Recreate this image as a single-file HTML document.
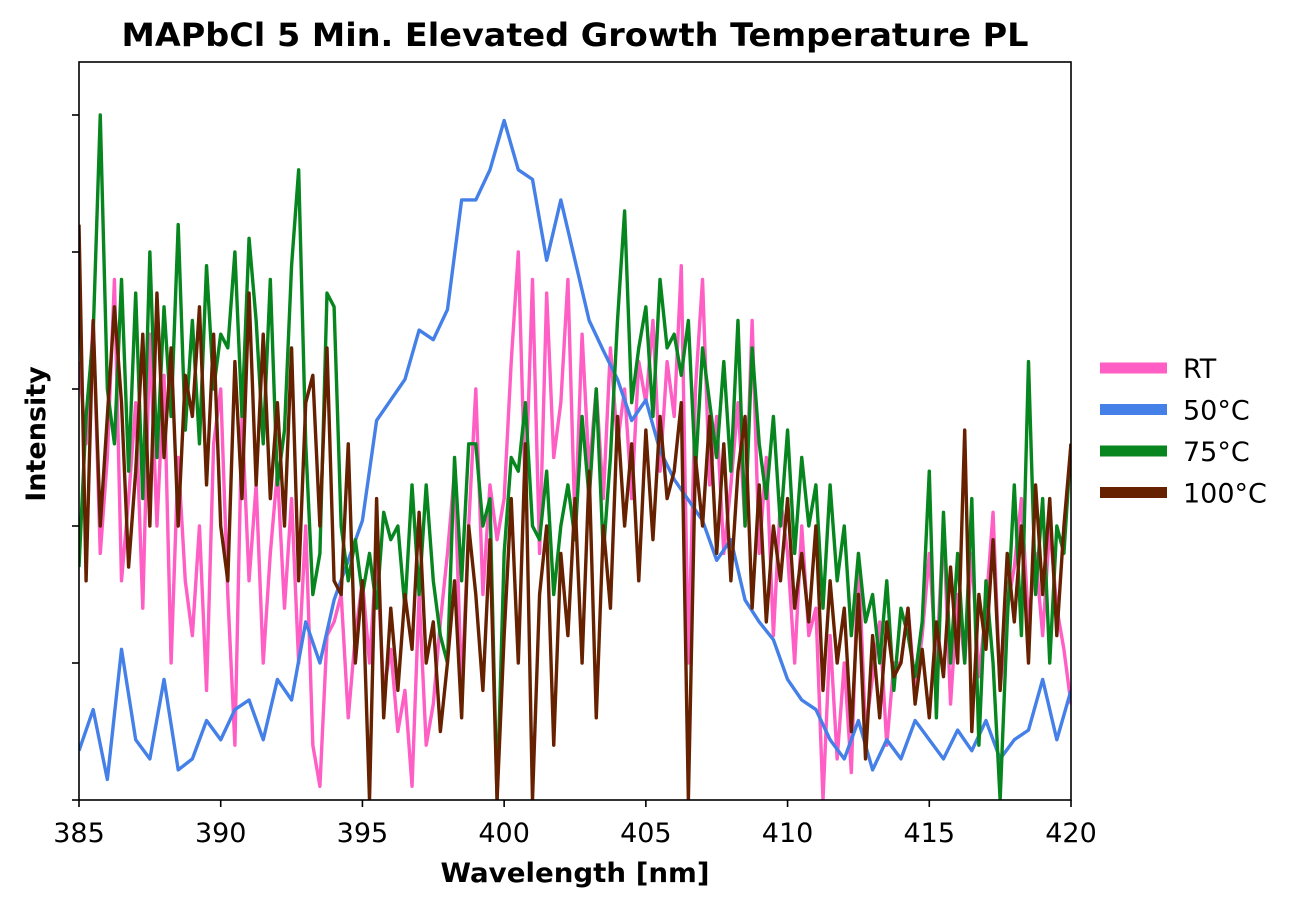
<!DOCTYPE html>
<html><head><meta charset="utf-8">
<style>
body{margin:0;background:#fff;font-family:"DejaVu Sans","Liberation Sans",sans-serif;}
svg text{font-family:"DejaVu Sans","Liberation Sans",sans-serif;}
</style></head>
<body>
<svg id="chart" width="1304" height="908" xmlns="http://www.w3.org/2000/svg">
<defs><clipPath id="clip"><rect x="79" y="62" width="992" height="738"/></clipPath></defs>
<rect width="1304" height="908" fill="#fff"/>
<text x="575" y="46" font-size="32" font-weight="bold" text-anchor="middle" textLength="907" lengthAdjust="spacingAndGlyphs">MAPbCl 5 Min. Elevated Growth Temperature PL</text>
<g id="series" clip-path="url(#clip)"></g>
<rect x="79" y="62" width="992" height="738" fill="none" stroke="#000" stroke-width="1.6"/>
<g id="axes"></g>
<text x="575" y="882" font-size="27" font-weight="bold" text-anchor="middle" textLength="269" lengthAdjust="spacingAndGlyphs">Wavelength [nm]</text>
<text transform="translate(45,434) rotate(-90)" font-size="27" font-weight="bold" text-anchor="middle">Intensity</text>
<g id="legend"></g>
</svg>
<script>
const xTicks=[385,390,395,400,405,410,415,420];
const yTicks=[0,1,2,3,4,5];
const seriesNames=["RT","50°C","75°C","100°C"];
const rtValues=[
3.2,2.6,3.5,1.8, 2.5,3.8,1.6,2.2, 2.9,1.4,3.4,2.0, 3.1,1.0,2.5,1.6, 1.2,2.0,0.8,2.6,
3.0,1.5,0.4,2.8, 1.6,2.3,1.0,1.8, 2.4,1.4,2.2,1.0, 2.0,0.4,0.1,1.2, 1.3,1.5,0.6,1.2,
1.6,1.0,1.8,0.8, 1.1,0.5,0.8,0.1, 1.5,0.4,0.7,1.3, 1.8,2.4,0.8,2.0, 3.0,1.5,2.3,1.9,
2.2,3.2,4.0,2.2, 3.8,1.8,3.7,2.5, 2.9,3.8,2.0,3.4, 2.4,3.0,2.2,3.3, 2.6,3.0,2.2,3.2,
2.9,3.5,2.4,3.2, 2.8,3.9,1.0,3.0, 3.8,2.3,2.8,1.8, 2.3,2.9,2.0,3.5, 1.8,2.5,1.2,2.2,
1.8,1.0,2.0,1.2, 1.4,0.0,1.2,0.3, 1.0,0.2,1.8,0.5, 0.9,1.3,0.4,1.0, 1.0,1.4,0.8,1.2,
1.8,1.0,2.0,0.7, 1.5,1.0,1.8,0.9, 1.4,2.1,0.8,1.4, 1.7,2.2,1.3,1.8, 1.2,2.0,1.4,1.1, 0.7];
const c50Values=[0.36,0.66,0.15,1.1,0.44,0.3,0.88,0.22,0.3,0.58,0.44,0.66,0.73,0.44,0.88,0.73,1.3,1.0,1.46,1.75,
2.04,2.77,2.92,3.07,3.43,3.36,3.58,4.38,4.38,4.6,4.96,4.6,4.53,3.94,4.38,3.94,3.5,3.28,3.07,2.77,
2.92,2.55,2.34,2.19,2.04,1.75,1.9,1.46,1.3,1.17,0.88,0.73,0.66,0.44,0.3,0.58,0.22,0.44,0.3,0.58,
0.44,0.3,0.51,0.36,0.58,0.3,0.44,0.51,0.88,0.44,0.8];
const c75Values=[
1.7,2.8,3.4,5.0, 3.0,2.6,3.8,2.4, 3.7,2.2,4.0,2.5, 3.6,2.8,4.2,2.7, 3.5,2.6,3.9,3.0,
3.4,3.3,4.0,2.8, 4.1,3.5,2.6,3.8, 2.3,2.7,3.9,4.6, 2.6,1.5,1.8,3.7, 3.6,2.0,1.6,1.9,
1.5,1.8,1.4,2.1, 1.9,2.0,1.4,2.3, 1.5,2.3,1.6,1.2, 1.0,2.5,1.6,2.6, 2.6,2.0,2.2,0.0,
1.8,2.5,2.4,2.9, 2.0,1.9,2.4,1.5, 2.0,2.3,1.9,2.8, 2.2,3.0,1.8,2.5, 3.5,4.3,2.9,3.3,
3.6,2.8,3.8,3.3, 3.4,3.1,3.5,2.4, 3.3,2.9,2.5,3.2, 2.4,3.5,2.0,3.3, 2.6,2.2,2.8,2.0,
2.7,1.8,2.5,2.0, 2.3,1.4,2.3,1.6, 2.0,1.2,1.8,1.3, 1.5,1.0,1.6,0.8, 1.4,1.2,0.9,1.3,
2.4,0.6,2.1,1.0, 1.8,1.0,2.2,0.4, 1.6,1.0,0.0,1.3, 2.3,1.2,3.2,1.5, 2.2,1.0,2.0,1.8, 2.6];
const c100Values=[
4.2,1.6,3.5,2.0, 2.8,3.6,2.9,1.7, 2.4,3.4,2.0,3.7, 2.5,3.3,2.0,3.1, 2.8,3.6,2.3,3.4,
2.0,1.6,3.2,2.2, 3.7,2.3,3.4,2.2, 2.9,2.0,3.3,1.6, 2.9,3.1,2.0,3.3, 1.6,1.5,2.6,1.0,
1.6,0.0,2.2,0.6, 1.4,0.8,1.5,1.1, 2.1,1.0,1.3,0.5, 1.0,1.6,0.6,2.0, 1.5,0.8,1.9,0.0,
1.2,2.2,1.0,2.6, 0.0,1.5,2.0,0.4, 1.8,1.2,2.2,1.0, 2.4,0.6,2.0,1.4, 2.8,2.0,2.6,1.6,
2.7,1.9,2.8,2.2, 2.4,2.9,0.0,2.5, 2.0,2.8,1.8,2.6, 1.6,2.4,2.8,1.4, 2.3,1.3,2.0,1.6,
2.2,1.4,1.8,1.3, 2.0,0.8,1.6,1.0, 1.4,0.5,1.5,0.3, 1.2,0.6,1.3,0.9, 1.0,1.4,0.7,1.1,
0.6,1.3,0.9,1.7, 1.0,2.7,0.5,1.5, 1.1,1.9,0.8,1.8, 1.3,2.0,1.0,2.3, 1.5,2.2,1.2,2.0, 2.6];

const NS="http://www.w3.org/2000/svg";
const X0=79,X1=1071,Y0=800,PX_PER_UNIT=137;
function xScale(v){return X0+(v-385)/(420-385)*(X1-X0);}
function yScale(v){return Y0-v*PX_PER_UNIT;}
const colors=["#ff5ec4","#4480e8","#07861f","#662200"];
const allSeries=[rtValues,c50Values,c75Values,c100Values];
const slugs=["rt","50c","75c","100c"];
const g=document.getElementById('series');
allSeries.forEach((vals,si)=>{
  const n=vals.length, step=35/(n-1);
  const d=vals.map((v,i)=>(i?'L':'M')+xScale(385+i*step).toFixed(2)+','+yScale(v).toFixed(2)).join('');
  const p=document.createElementNS(NS,'path');
  p.setAttribute('d',d);p.setAttribute('fill','none');p.setAttribute('stroke',colors[si]);
  p.setAttribute('stroke-width','3.4');p.setAttribute('stroke-linejoin','round');
  
  
  g.appendChild(p);
});
const ax=document.getElementById('axes');
xTicks.forEach(t=>{
  const x=xScale(t);
  const l=document.createElementNS(NS,'line');
  l.setAttribute('x1',x);l.setAttribute('x2',x);l.setAttribute('y1',800);l.setAttribute('y2',807);
  l.setAttribute('stroke','#000');l.setAttribute('stroke-width','1.6');
  
  
  ax.appendChild(l);
  const tx=document.createElementNS(NS,'text');
  tx.setAttribute('x',x);tx.setAttribute('y',842);tx.setAttribute('font-size','27');tx.setAttribute('text-anchor','middle');
  tx.textContent=t;
  
  
  ax.appendChild(tx);
});
yTicks.forEach(t=>{
  const y=yScale(t);
  const l=document.createElementNS(NS,'line');
  l.setAttribute('x1',72);l.setAttribute('x2',79);l.setAttribute('y1',y);l.setAttribute('y2',y);
  l.setAttribute('stroke','#000');l.setAttribute('stroke-width','1.6');
  
  
  ax.appendChild(l);
});
const lg=document.getElementById('legend');
seriesNames.forEach((nm,i)=>{
  const y=368+i*41.5;
  const r=document.createElementNS(NS,'rect');
  r.setAttribute('x',1100);r.setAttribute('y',y-5.5);r.setAttribute('width',67);r.setAttribute('height',11);r.setAttribute('fill',colors[i]);
  
  
  lg.appendChild(r);
  const t=document.createElementNS(NS,'text');
  t.setAttribute('x',1183);t.setAttribute('y',y+10);t.setAttribute('font-size','27');
  t.textContent=nm;
  
  
  lg.appendChild(t);
});
</script>
</body></html>
